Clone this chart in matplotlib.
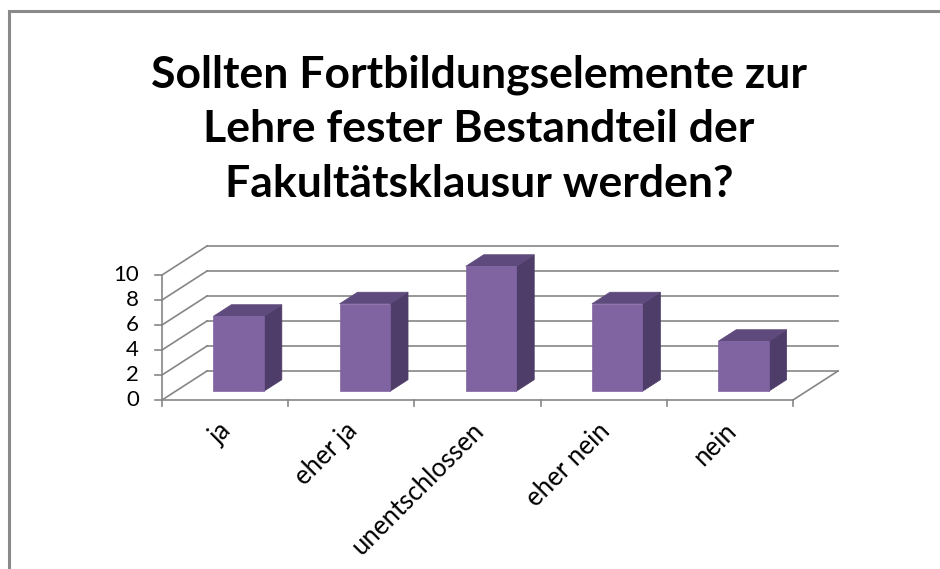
import numpy as np
import matplotlib.pyplot as plt
from matplotlib.patches import Polygon, Rectangle

# Daten
categories = ['ja', 'eher ja', 'unentschlossen', 'eher nein', 'nein']
values = [6, 7, 10, 7, 4]
y_ticks = [0, 2, 4, 6, 8, 10]
title = 'Sollten Fortbildungselemente zur\nLehre fester Bestandteil der\nFakultätsklausur werden?'

W, H = 940, 569
fig = plt.figure(figsize=(W / 100, H / 100), dpi=100)

# Vorderebene des Diagramms in Pixeln
left, right, y0, y10 = 162, 793, 400, 275
ax = fig.add_axes([left / W, (H - y0) / H, (right - left) / W, (y0 - y10) / H])
ax.set_xlim(0, len(categories))
ax.set_ylim(0, 10)
ax.axis('off')

# Tiefenversatz (schraege Projektion) in Datenkoordinaten
px_x = (right - left) / len(categories)
px_y = (y0 - y10) / 10
DX = 45 / px_x
DY = 29 / px_y

grid_c = '#868686'
lw = 1.2

def P(x, y, d):
    return (x + d * DX, y + d * DY)

# Rueckwand
for v in y_ticks:
    ax.plot([DX, len(categories) + DX], [v + DY, v + DY], color=grid_c, lw=lw, clip_on=False, zorder=1)
    ax.plot([0, DX], [v, v + DY], color=grid_c, lw=lw, clip_on=False, zorder=1)

# Boden
n = len(categories)
ax.plot([0, n], [0, 0], color=grid_c, lw=lw, clip_on=False, zorder=1)
ax.plot([n, n + DX], [0, DY], color=grid_c, lw=lw, clip_on=False, zorder=1)
for i in range(n + 1):
    ax.plot([i, i], [0, -6 / px_y], color=grid_c, lw=lw, clip_on=False, zorder=1)

# y-Achse
ax.plot([0, 0], [0, 10], color=grid_c, lw=lw, clip_on=False, zorder=1)
for v in y_ticks:
    ax.plot([-7 / px_x, 0], [v, v], color=grid_c, lw=lw, clip_on=False, zorder=1)
    ax.text(-23 / px_x, v, str(v), ha='right', va='center', fontsize=16,
            family='Lato', color='#000000')

# Saeulen
front_c, top_c, side_c = '#8064A2', '#5F4A7D', '#4F3D69'
bw, d0, d1 = 0.4, 0.3, 0.7
for i, v in enumerate(values):
    xa = i + 0.5 - bw / 2
    xb = i + 0.5 + bw / 2
    side = [P(xb, 0, d0), P(xb, 0, d1), P(xb, v, d1), P(xb, v, d0)]
    top = [P(xa, v, d0), P(xb, v, d0), P(xb, v, d1), P(xa, v, d1)]
    front = [P(xa, 0, d0), P(xb, 0, d0), P(xb, v, d0), P(xa, v, d0)]
    for poly, c in [(side, side_c), (top, top_c), (front, front_c)]:
        ax.add_patch(Polygon(poly, closed=True, facecolor=c, edgecolor=c, lw=0.5,
                             clip_on=False, zorder=3))

# Kategorienbeschriftung
for i, cat in enumerate(categories):
    ax.text(i + 0.5 + 11 / px_x, -18 / px_y, cat, rotation=45, ha='right', va='top',
            fontsize=18.5, family='Lato', color='#000000')

# Titel
fig.text(479 / W, 1 - 129 / H, title, ha='center', va='center', fontsize=32,
         fontweight='bold', family='Lato', linespacing=1.44)

# Rahmen
fig.patches.append(Rectangle((9 / W, -1), 2, 1 + (H - 11) / H, transform=fig.transFigure,
                             fill=False, edgecolor='#8A8A8A', lw=2.2))

fig.savefig('out.png', dpi=100)
